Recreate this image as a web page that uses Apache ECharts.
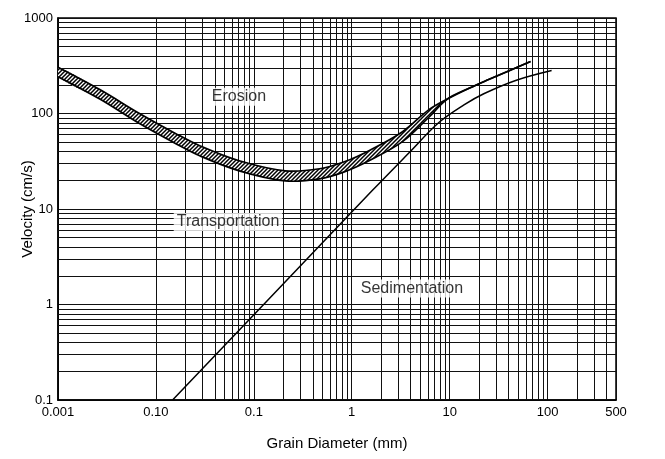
<!DOCTYPE html>
<html><head><meta charset="utf-8">
<script src="https://cdn.jsdelivr.net/npm/echarts@6/dist/echarts.min.js"></script>
<style>html,body{margin:0;padding:0;background:#fff}#c{width:665px;height:459px}</style>
</head><body><div id="c"></div>
<script>
// ---- data ----
const xTickValues = [0.001, 0.01, 0.1, 1, 10, 100, 500];
const xTickLabels = ['0.001', '0.10', '0.1', '1', '10', '100', '500'];
const yTickValues = [0.1, 1, 10, 100, 1000];
const yTickLabels = ['0.1', '1', '10', '100', '1000'];

const erosionX     = [0.001, 0.0027, 0.0068, 0.016, 0.028, 0.071, 0.21, 0.47, 0.84, 1.5, 3.3, 6.1, 9.4, 16, 25, 40, 67];
const erosionUpper = [305, 177, 100, 61.5, 46, 32, 25.1, 26.4, 31.2, 40.8, 64.5, 109, 141, 185, 227, 279, 351];
const erosionLower = [243, 141, 78.5, 48.3, 36.1, 25.1, 19.7, 20.7, 24.5, 32, 50.7, 90.8, 141, 185, 227, 279, 351];

const sedimentationX = [0.0148, 0.155, 1.61, 3.85, 7.76, 14.0, 22.3, 47.2, 110];
const sedimentationY = [0.1, 1.25, 15.5, 38.8, 80.4, 123, 161, 222, 282];

const regionNames = ['Erosion', 'Transportation', 'Sedimentation'];
const regionX = [0.0705, 0.0545, 4.12];
const regionY = [150, 7.3, 1.47];

// ---- helpers ----
function tickFormatter(values, labels) {
  return function (v) {
    for (let i = 0; i < values.length; i++) {
      if (Math.abs(Math.log10(v) - Math.log10(values[i])) < 1e-6) return labels[i];
    }
    return '';
  };
}
function minorLogValues(min, max) {
  const out = [];
  for (let e = Math.floor(Math.log10(min)); e <= Math.ceil(Math.log10(max)); e++) {
    for (let m = 2; m <= 9; m++) {
      const v = m * Math.pow(10, e);
      if (v > min * 1.0001 && v < max * 0.9999) out.push(v);
    }
  }
  return out;
}
function hatch() {
  const c = document.createElement('canvas');
  c.width = 4; c.height = 4;
  const g = c.getContext('2d');
  g.fillStyle = '#fff'; g.fillRect(0, 0, 4, 4);
  g.strokeStyle = '#000'; g.lineWidth = 1.5;
  g.beginPath();
  g.moveTo(-1, 5); g.lineTo(5, -1);
  g.moveTo(-1, 1); g.lineTo(1, -1);
  g.moveTo(3, 5); g.lineTo(5, 3);
  g.stroke();
  return c;
}

const FONT = '"Liberation Sans", Arial, Helvetica, sans-serif';
const xMinor = minorLogValues(0.001, 500);
const yMinor = minorLogValues(0.1, 1000);
const hatchCanvas = hatch();
const SMOOTH = 0.35;

const chart = echarts.init(document.getElementById('c'), null, {renderer: 'canvas'});
chart.setOption({
  animation: false,
  backgroundColor: '#fff',
  grid: {left: 58, right: 49, top: 18, bottom: 59, show: true, borderColor: '#000', borderWidth: 1.5, containLabel: false},
  xAxis: {
    type: 'log', logBase: 10, min: 0.001, max: 500,
    name: 'Grain Diameter (mm)', nameLocation: 'middle', nameGap: 36, nameMoveOverlap: false,
    nameTextStyle: {fontSize: 15, color: '#000', fontFamily: FONT},
    axisLine: {show: true, lineStyle: {color: '#000', width: 1.5}},
    axisTick: {show: false},
    splitLine: {show: true, lineStyle: {color: '#111', width: 1}},
    axisLabel: {formatter: tickFormatter(xTickValues, xTickLabels), color: '#000', fontSize: 13, fontFamily: FONT, margin: 6, showMinLabel: true, showMaxLabel: true}
  },
  yAxis: {
    type: 'log', logBase: 10, min: 0.1, max: 1000,
    name: 'Velocity (cm/s)', nameLocation: 'middle', nameGap: 23, nameMoveOverlap: false,
    nameTextStyle: {fontSize: 15, color: '#000', fontFamily: FONT},
    axisLine: {show: true, lineStyle: {color: '#000', width: 1.5}},
    axisTick: {show: false},
    splitLine: {show: true, lineStyle: {color: '#111', width: 1}},
    axisLabel: {formatter: tickFormatter(yTickValues, yTickLabels), color: '#000', fontSize: 13, fontFamily: FONT, margin: 5, showMinLabel: true, showMaxLabel: true}
  },
  series: [
    {
      type: 'line', name: 'grid', data: [], silent: true,
      markLine: {
        z: 1, silent: true, symbol: ['none', 'none'], animation: false,
        label: {show: false},
        lineStyle: {color: '#111', width: 1, type: 'solid'},
        emphasis: {disabled: true},
        data: xMinor.map(v => ({xAxis: v})).concat(yMinor.map(v => ({yAxis: v})))
      }
    },
    {
      type: 'custom', name: 'erosion', z: 3, clip: true, silent: true,
      data: [[erosionX[0], erosionUpper[0]]],
      renderItem: function (params, api) {
        const up = erosionX.map((x, i) => api.coord([x, erosionUpper[i]]));
        const lo = erosionX.map((x, i) => api.coord([x, erosionLower[i]]));
        return {
          type: 'group',
          children: [
            {type: 'polygon', shape: {points: up.concat(lo.slice().reverse()), smooth: SMOOTH},
             style: {fill: {image: hatchCanvas, repeat: 'repeat'}, stroke: null}},
            {type: 'polyline', shape: {points: up, smooth: SMOOTH},
             style: {fill: null, stroke: '#000', lineWidth: 1.7}},
            {type: 'polyline', shape: {points: lo, smooth: SMOOTH},
             style: {fill: null, stroke: '#000', lineWidth: 1.7}}
          ]
        };
      }
    },
    {
      type: 'line', name: 'sedimentation', z: 3,
      data: sedimentationX.map((x, i) => [x, sedimentationY[i]]),
      smooth: 0.35, symbol: 'none',
      lineStyle: {color: '#000', width: 1.5}
    },
    {
      type: 'scatter', name: 'labels', z: 10, symbolSize: 0, silent: true,
      data: regionNames.map((n, i) => ({name: n, value: [regionX[i], regionY[i]]})),
      label: {show: true, position: 'inside', formatter: '{b}', color: '#000', fontSize: 16, fontFamily: FONT, backgroundColor: '#fff', padding: [1, 3]}
    }
  ]
});
</script>
</body></html>
